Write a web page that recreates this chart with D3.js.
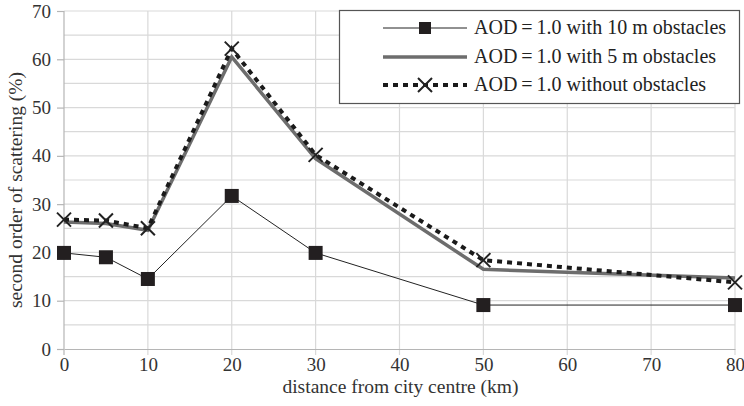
<!DOCTYPE html>
<html>
<head>
<meta charset="utf-8">
<script src="https://cdn.jsdelivr.net/npm/d3@7/dist/d3.min.js"></script>
<style>
  body { margin: 0; background: #fff; }
  svg text { font-family: "Liberation Serif", serif; }
</style>
</head>
<body>
<svg width="744" height="406"></svg>
<script>
// distances (km) and series values (%)
var distances = [0, 5, 10, 20, 30, 50, 80];
var obst10 = [19.9, 19.0, 14.5, 31.7, 19.9, 9.1, 9.1];
var obst5 = [26.3, 26.0, 24.6, 60.5, 39.4, 16.5, 14.7];
var noObst = [26.8, 26.6, 25.0, 62.2, 40.2, 18.4, 13.8];
var xTicks = [0, 10, 20, 30, 40, 50, 60, 70, 80];
var yTicks = [0, 10, 20, 30, 40, 50, 60, 70];
var seriesNames = ["AOD\u2009=\u20091.0 with 10 m obstacles",
                   "AOD\u2009=\u20091.0 with 5 m obstacles",
                   "AOD\u2009=\u20091.0 without obstacles"];

var svg = d3.select("svg"),
    margin = {top: 11, right: 9, bottom: 57, left: 64},
    width = +svg.attr("width") - margin.left - margin.right,
    height = +svg.attr("height") - margin.top - margin.bottom;

var x = d3.scaleLinear().domain([0, 80]).range([0, width]),
    y = d3.scaleLinear().domain([0, 70]).range([height, 0]);

var g = svg.append("g")
    .attr("transform", "translate(" + margin.left + "," + margin.top + ")");

// horizontal grid every 5
g.append("g")
  .selectAll("line")
  .data(d3.range(5, 75, 5))
  .enter().append("line")
    .attr("x1", 0).attr("x2", width)
    .attr("y1", function(d) { return y(d); })
    .attr("y2", function(d) { return y(d); })
    .attr("stroke", "#d9d9d9").attr("stroke-width", 1.2);

// vertical grid, running a little below the axis
g.append("g")
  .selectAll("line")
  .data(xTicks)
  .enter().append("line")
    .attr("x1", function(d) { return x(d); })
    .attr("x2", function(d) { return x(d); })
    .attr("y1", 0).attr("y2", height + 6)
    .attr("stroke", function(d) { return d === 0 ? "#b5b5b5" : "#d9d9d9"; })
    .attr("stroke-width", 1.2);

// y axis
var yAxis = g.append("g")
    .call(d3.axisLeft(y).tickValues(yTicks).tickSize(7).tickPadding(6));
yAxis.select(".domain").remove();
yAxis.selectAll(".tick line").attr("stroke", "#b5b5b5").attr("stroke-width", 1.2);
yAxis.selectAll(".tick text").attr("font-size", 19).attr("fill", "#333");

// x axis
var xAxis = g.append("g")
    .attr("transform", "translate(0," + height + ")")
    .call(d3.axisBottom(x).tickValues(xTicks).tickSize(0).tickPadding(9));
xAxis.select(".domain").attr("stroke", "#b5b5b5").attr("stroke-width", 1.2);
xAxis.selectAll(".tick text").attr("font-size", 19).attr("fill", "#333");

// axis titles
svg.append("text")
    .attr("x", margin.left + width / 2 + 1).attr("y", 393)
    .attr("text-anchor", "middle")
    .attr("font-size", 19.5).attr("fill", "#333")
    .text("distance from city centre (km)");

svg.append("text")
    .attr("transform", "translate(22,190) rotate(-90)")
    .attr("text-anchor", "middle")
    .attr("font-size", 19.5).attr("fill", "#333")
    .text("second order of scattering (%)");

function pts(vals) {
  return distances.map(function(d, i) { return [d, vals[i]]; });
}

var line = d3.line()
    .x(function(d) { return x(d[0]); })
    .y(function(d) { return y(d[1]); });

// 10 m obstacles
g.append("path")
    .datum(pts(obst10))
    .attr("d", line)
    .attr("fill", "none").attr("stroke", "#222").attr("stroke-width", 1);

g.selectAll(".sq")
  .data(pts(obst10))
  .enter().append("rect")
    .attr("class", "sq")
    .attr("x", function(d) { return x(d[0]) - 7; })
    .attr("y", function(d) { return y(d[1]) - 7; })
    .attr("width", 14).attr("height", 14)
    .attr("fill", "#231f20");

// 5 m obstacles
g.append("path")
    .datum(pts(obst5))
    .attr("d", line)
    .attr("fill", "none").attr("stroke", "#6d6d6d").attr("stroke-width", 3.5);

// without obstacles
g.append("path")
    .datum(pts(noObst))
    .attr("d", line)
    .attr("fill", "none").attr("stroke", "#1a1a1a").attr("stroke-width", 4)
    .attr("stroke-dasharray", "5,5");

function cross(sel, cx, cy) {
  sel.append("path")
    .attr("d", "M" + (cx - 7) + "," + (cy - 7) + "L" + (cx + 7) + "," + (cy + 7) +
               "M" + (cx - 7) + "," + (cy + 7) + "L" + (cx + 7) + "," + (cy - 7))
    .attr("stroke", "#222").attr("stroke-width", 2).attr("fill", "none");
}

pts(noObst).forEach(function(d) { cross(g, x(d[0]), y(d[1])); });

// legend
var lg = svg.append("g");
lg.append("rect")
    .attr("x", 339.5).attr("y", 10.5).attr("width", 400).attr("height", 93)
    .attr("fill", "#fff").attr("stroke", "#555").attr("stroke-width", 1.2);

var rows = [28, 57, 85];
var lx1 = 383, lx2 = 467, lmid = (lx1 + lx2) / 2;

lg.append("line").attr("x1", lx1).attr("x2", lx2).attr("y1", rows[0]).attr("y2", rows[0])
    .attr("stroke", "#222").attr("stroke-width", 1);
lg.append("rect").attr("x", lmid - 6).attr("y", rows[0] - 6).attr("width", 12).attr("height", 12)
    .attr("fill", "#231f20");

lg.append("line").attr("x1", lx1).attr("x2", lx2).attr("y1", rows[1]).attr("y2", rows[1])
    .attr("stroke", "#6d6d6d").attr("stroke-width", 3.5);

lg.append("line").attr("x1", lx1).attr("x2", lx2).attr("y1", rows[2]).attr("y2", rows[2])
    .attr("stroke", "#1a1a1a").attr("stroke-width", 4).attr("stroke-dasharray", "5,5");
cross(lg, lmid, rows[2]);

lg.selectAll(".lt")
  .data(seriesNames)
  .enter().append("text")
    .attr("class", "lt")
    .attr("x", 474)
    .attr("y", function(d, i) { return rows[i] + 6; })
    .attr("font-size", 20).attr("fill", "#222")
    .text(function(d) { return d; });
</script>
</body>
</html>
